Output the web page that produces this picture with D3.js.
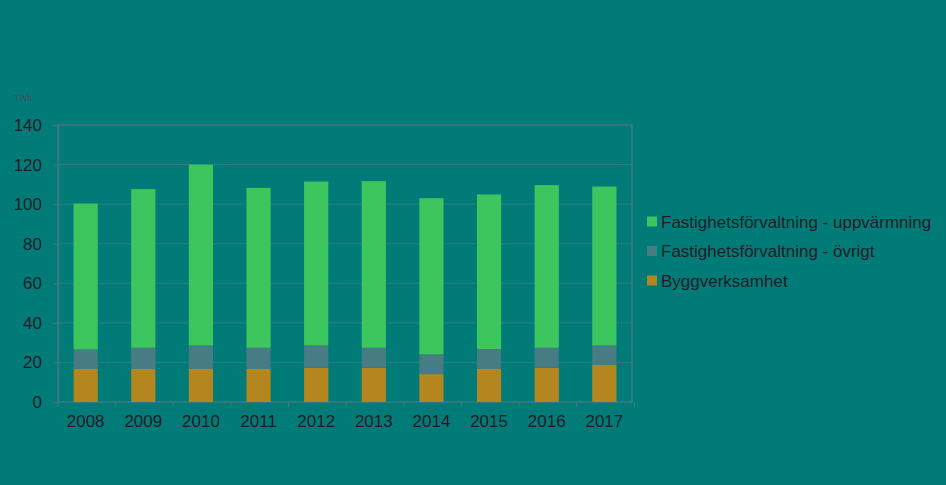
<!DOCTYPE html>
<html lang="sv">
<head>
    <meta charset="UTF-8">
    <title>Energianvändning - stapeldiagram</title>
    <script src="https://d3js.org/d3.v7.min.js"></script>
    <style>
        html, body { margin: 0; padding: 0; background: #007b77; }
        svg { display: block; font-family: "Liberation Sans", Arial, sans-serif; }
        .tick text { fill: #241b27; font-size: 17px; }
        .legend text { fill: #241b27; font-size: 17px; }
    </style>
</head>
<body>
    <script>
        // Data (TWh)
        const years = ["2008", "2009", "2010", "2011", "2012", "2013", "2014", "2015", "2016", "2017"];
        const bygg = [16.7, 16.7, 16.7, 16.7, 17.3, 17.3, 14.1, 16.7, 17.3, 18.7];
        const ovrigt = [9.9, 10.7, 11.9, 10.7, 11.3, 10.1, 10.0, 10.1, 10.1, 9.9];
        const uppvarmning = [73.7, 80.2, 91.4, 80.8, 82.8, 84.2, 78.9, 78.1, 82.2, 80.3];
        const yTicks = [0, 20, 40, 60, 80, 100, 120, 140];

        const seriesNames = ["Byggverksamhet", "Fastighetsförvaltning - övrigt", "Fastighetsförvaltning - uppvärmning"];
        const seriesValues = [bygg, ovrigt, uppvarmning];
        const colors = ["#b4861f", "#477c85", "#3ec65e"];

        const width = 946, height = 485;
        const plotLeft = 58, plotRight = 632, plotTop = 125, plotBottom = 402;

        const svg = d3.select("body").append("svg")
            .attr("width", width)
            .attr("height", height);

        // Scales
        const x = d3.scaleBand()
            .domain(years)
            .range([plotLeft, plotRight])
            .paddingInner(0.58)
            .paddingOuter(0.27);

        const y = d3.scaleLinear()
            .domain([0, 140])
            .range([plotBottom, plotTop]);

        // Grid lines
        svg.append("g")
            .selectAll("line")
            .data(yTicks.filter(d => d > 0 && d < 140))
            .join("line")
            .attr("x1", plotLeft).attr("x2", plotRight)
            .attr("y1", d => y(d)).attr("y2", d => y(d))
            .attr("stroke", "#2f7d82")
            .attr("stroke-width", 1);

        // Plot frame
        svg.append("rect")
            .attr("x", plotLeft).attr("y", plotTop)
            .attr("width", plotRight - plotLeft).attr("height", plotBottom - plotTop)
            .attr("fill", "none")
            .attr("stroke", "#4d7384")
            .attr("stroke-width", 1.3);

        // Stack the series
        const table = years.map((yr, i) => {
            const row = { year: yr };
            seriesNames.forEach((n, j) => row[n] = seriesValues[j][i]);
            return row;
        });
        const stacked = d3.stack().keys(seriesNames)(table);

        svg.append("g")
            .selectAll("g")
            .data(stacked)
            .join("g")
            .attr("fill", (d, i) => colors[i])
            .selectAll("rect")
            .data(d => d)
            .join("rect")
            .attr("x", d => x(d.data.year))
            .attr("y", d => y(d[1]))
            .attr("width", x.bandwidth())
            .attr("height", d => y(d[0]) - y(d[1]));

        // Y axis
        const yAxis = svg.append("g")
            .attr("transform", `translate(${plotLeft},0)`)
            .call(d3.axisLeft(y).tickValues(yTicks).tickSize(5).tickPadding(10));
        yAxis.select(".domain").attr("stroke", "#4d7384");
        yAxis.selectAll(".tick line").attr("stroke", "#4d7384");
        yAxis.selectAll(".tick text").attr("dx", "-1");

        // X axis with ticks between categories
        const xAxis = svg.append("g")
            .attr("transform", `translate(0,${plotBottom})`)
            .call(d3.axisBottom(x).tickSize(0).tickPadding(13));
        xAxis.select(".domain").remove();
        xAxis.selectAll(".tick text").attr("dy", "0.71em");

        const step = x.step();
        svg.append("g")
            .selectAll("line")
            .data(d3.range(years.length + 1))
            .join("line")
            .attr("x1", i => plotLeft + i * step).attr("x2", i => plotLeft + i * step)
            .attr("y1", plotBottom).attr("y2", plotBottom + 5)
            .attr("stroke", "#4d7384");

        // Unit label
        svg.append("text")
            .attr("x", 14).attr("y", 101)
            .attr("fill", "#4a4a5a")
            .attr("font-size", 8.5)
            .text("TWh");

        // Legend (top to bottom: uppvärmning, övrigt, bygg)
        const legendOrder = [2, 1, 0];
        const legend = svg.append("g").attr("class", "legend");
        const item = legend.selectAll("g")
            .data(legendOrder)
            .join("g")
            .attr("transform", (d, i) => `translate(647,${221.5 + i * 29.5})`);
        item.append("rect")
            .attr("x", 0).attr("y", -5)
            .attr("width", 10).attr("height", 10)
            .attr("fill", d => colors[d]);
        item.append("text")
            .attr("x", 14).attr("y", 0)
            .attr("dy", "0.36em")
            .text(d => seriesNames[d]);
    </script>
</body>
</html>
